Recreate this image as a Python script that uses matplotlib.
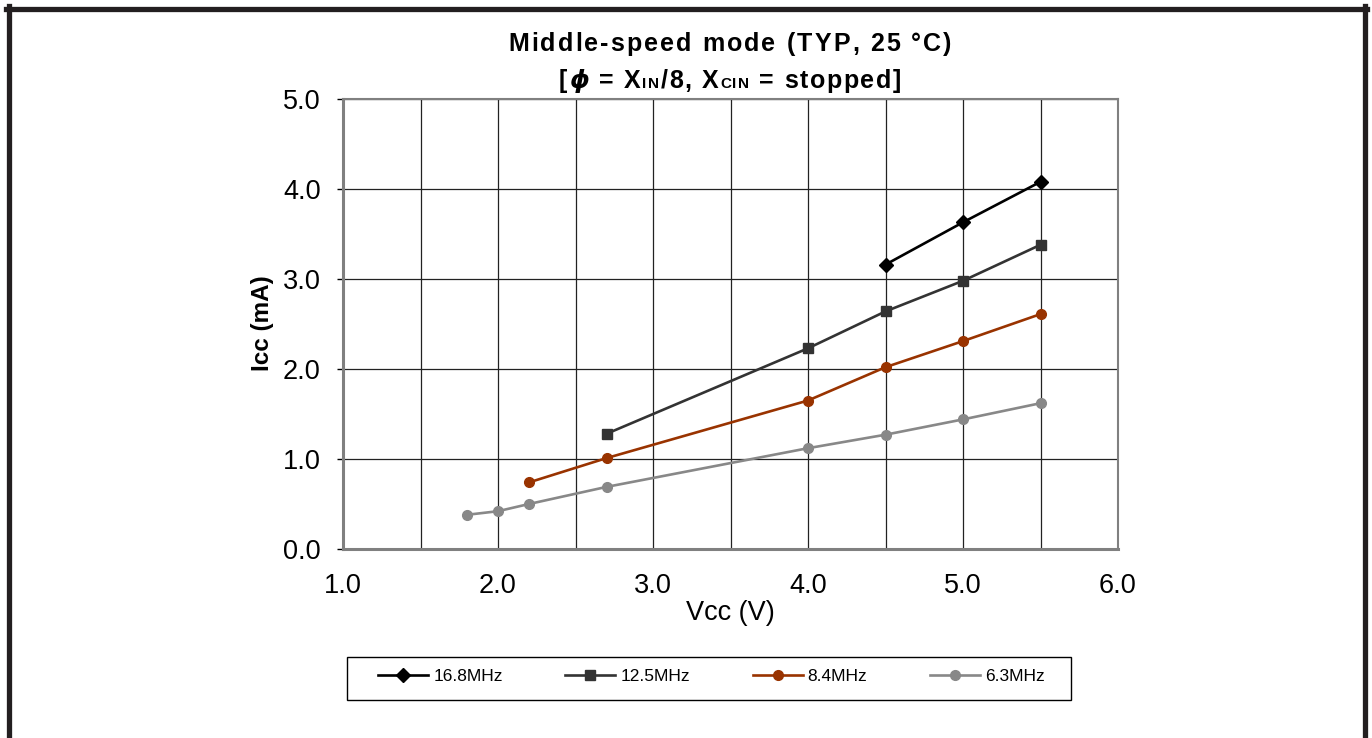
import matplotlib
matplotlib.use("Agg")
import matplotlib.pyplot as plt
from matplotlib.lines import Line2D
from matplotlib.patches import Rectangle
from matplotlib import font_manager
from matplotlib.font_manager import FontProperties
from matplotlib.ft2font import FT2Font

plt.rcParams['font.family'] = ['Liberation Sans', 'DejaVu Sans']

# data
v168 = [4.5, 5.0, 5.5]
i168 = [3.16, 3.63, 4.08]
v125 = [2.7, 4.0, 4.5, 5.0, 5.5]
i125 = [1.28, 2.23, 2.64, 2.98, 3.38]
v84 = [2.2, 2.7, 4.0, 4.5, 5.0, 5.5]
i84 = [0.74, 1.01, 1.65, 2.02, 2.31, 2.61]
v63 = [1.8, 2.0, 2.2, 2.7, 4.0, 4.5, 5.0, 5.5]
i63 = [0.38, 0.42, 0.50, 0.69, 1.12, 1.27, 1.44, 1.62]
labels = ["16.8MHz", "12.5MHz", "8.4MHz", "6.3MHz"]

fig = plt.figure(figsize=(13.72, 7.38), dpi=100)
W, H = 1372.0, 738.0
ax = fig.add_axes([343 / W, 1 - 549 / H, (1118 - 343) / W, (549 - 99) / H])

lw = 1.9
ax.plot(v168, i168, color='black', lw=lw, marker='D', ms=7.5, label=labels[0])
ax.plot(v125, i125, color='#333333', lw=lw, marker='s', ms=7, label=labels[1])
ax.plot(v84, i84, color='#993300', lw=lw, marker='o', ms=7, label=labels[2])
ax.plot(v63, i63, color='#888888', lw=lw, marker='o', ms=7, label=labels[3])

ax.set_xlim(1.0, 6.0)
ax.set_ylim(0.0, 5.0)
ax.set_xticks([1, 2, 3, 4, 5, 6])
ax.set_xticklabels(["1.0", "2.0", "3.0", "4.0", "5.0", "6.0"])
ax.set_xticks([1.5, 2.5, 3.5, 4.5, 5.5], minor=True)
ax.set_yticks([0, 1, 2, 3, 4, 5])
ax.set_yticklabels(["0.0", "1.0", "2.0", "3.0", "4.0", "5.0"])
ax.tick_params(axis='x', which='both', length=0, labelsize=19.5, pad=17)
ax.tick_params(axis='y', length=4, width=1, direction='out', labelsize=19.5, pad=12)
ax.grid(True, which='both', axis='x', color='#222222', lw=0.9)
ax.grid(True, which='major', axis='y', color='#222222', lw=0.9)
ax.set_axisbelow(True)
for s in ['left', 'bottom']:
    ax.spines[s].set_color('#808080')
    ax.spines[s].set_linewidth(2.2)
for s in ['top', 'right']:
    ax.spines[s].set_color('#808080')
    ax.spines[s].set_linewidth(1.5)

fig.text(730 / W, 1 - 613 / H, "Vcc (V)", ha='center', va='center', fontsize=19.5)
fig.text(262 / W, 1 - 323 / H, "Icc (mA)", ha='center', va='center', rotation=90,
         fontsize=17.5, fontweight='bold')


# title with letter spacing, drawn char by char
def tracked(y_base, segs, track, xc=730):
    items = []
    for txt, props in segs:
        fp = FontProperties(family=props.get('family', ['Liberation Sans', 'DejaVu Sans']),
                            size=props['fontsize'], weight=props.get('fontweight', 'normal'),
                            style=props.get('fontstyle', 'normal'))
        f = FT2Font(font_manager.findfont(fp))
        f.set_size(props['fontsize'], 100)
        for c in txt:
            g = f.load_char(ord(c))
            items.append((c, props, g.linearHoriAdvance / 65536.0))
    total = sum(a for _, _, a in items) + track * (len(items) - 1)
    x = xc - total / 2
    for c, props, a in items:
        if c != " ":
            fig.text(x / W, 1 - y_base / H, c, ha='left', va='baseline', color='black', **props)
        x += a + track


big = dict(fontsize=18, fontweight='bold')
small = dict(fontsize=11, fontweight='bold')
phi = dict(fontsize=18, fontweight='bold', fontstyle='italic', family='DejaVu Sans')
tracked(51, [("Middle-speed mode (TYP, 25 \u00b0C)", big)], 2.1)
tracked(88, [("[", big), ("\u03d5", phi), (" = X", big), ("IN", small),
             ("/8, X", big), ("CIN", small), (" = stopped]", big)], 1.6)

# legend: entries without frame, box drawn separately
leg = fig.legend(loc='center left', ncol=4, bbox_to_anchor=(378 / W, 1 - 676 / H),
                 fontsize=12.5, frameon=False, handlelength=2.88, handletextpad=0.3,
                 columnspacing=3.6, borderpad=0, borderaxespad=0)
fig.add_artist(Rectangle((347 / W, 1 - 700 / H), (1071 - 347) / W, (700 - 657) / H,
                         transform=fig.transFigure, fill=False, edgecolor='black', lw=1.0))

# outer frame
fc = '#231f20'
fw = 3.8
fig.add_artist(Line2D([8.5 / W, 8.5 / W], [0, 1 - 6 / H], transform=fig.transFigure, color=fc, lw=fw))
fig.add_artist(Line2D([6 / W, 1367 / W], [1 - 8.5 / H, 1 - 8.5 / H], transform=fig.transFigure, color=fc, lw=fw))
fig.add_artist(Line2D([1364.5 / W, 1364.5 / W], [0, 1 - 6 / H], transform=fig.transFigure, color=fc, lw=fw))

fig.savefig("out.png", dpi=100)
plt.close()
